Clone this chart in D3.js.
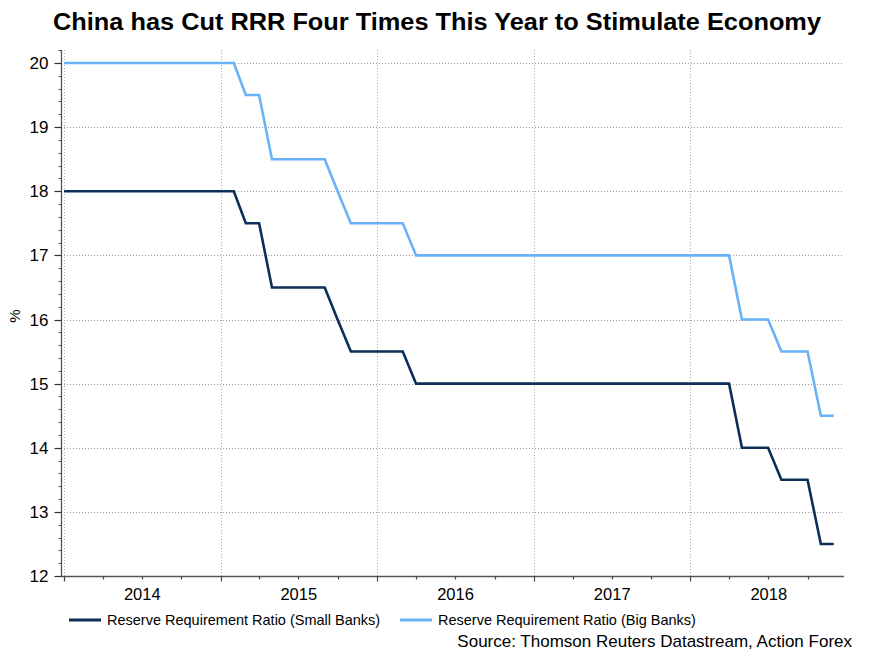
<!DOCTYPE html>
<html><head><meta charset="utf-8">
<script src="https://cdn.jsdelivr.net/npm/d3@7"></script>
<style>body{margin:0;background:#fff}svg{display:block;font-family:"Liberation Sans",Arial,sans-serif}</style>
</head><body><svg id="c" width="872" height="654"></svg>
<script>
const months = ["2013-12",
"2014-01","2014-02","2014-03","2014-04","2014-05","2014-06","2014-07","2014-08","2014-09","2014-10","2014-11","2014-12",
"2015-01","2015-02","2015-03","2015-04","2015-05","2015-06","2015-07","2015-08","2015-09","2015-10","2015-11","2015-12",
"2016-01","2016-02","2016-03","2016-04","2016-05","2016-06","2016-07","2016-08","2016-09","2016-10","2016-11","2016-12",
"2017-01","2017-02","2017-03","2017-04","2017-05","2017-06","2017-07","2017-08","2017-09","2017-10","2017-11","2017-12",
"2018-01","2018-02","2018-03","2018-04","2018-05","2018-06","2018-07","2018-08","2018-09","2018-10","2018-11"];
const smallBanks = [18,
18,18,18,18,18,18,18,18,18,18,18,18,
18,17.5,17.5,16.5,16.5,16.5,16.5,16.5,16,15.5,15.5,15.5,
15.5,15.5,15,15,15,15,15,15,15,15,15,15,
15,15,15,15,15,15,15,15,15,15,15,15,
15,15,15,14,14,14,13.5,13.5,13.5,12.5,12.5];
const bigBanks = [20,
20,20,20,20,20,20,20,20,20,20,20,20,
20,19.5,19.5,18.5,18.5,18.5,18.5,18.5,18,17.5,17.5,17.5,
17.5,17.5,17,17,17,17,17,17,17,17,17,17,
17,17,17,17,17,17,17,17,17,17,17,17,
17,17,17,16,16,16,15.5,15.5,15.5,14.5,14.5];
const yearLabels = ["2014","2015","2016","2017","2018"];
const yTicks = [12,13,14,15,16,17,18,19,20];
const seriesNames = ["Reserve Requirement Ratio (Small Banks)","Reserve Requirement Ratio (Big Banks)"];
const colors = ["#0b2f57","#6ab2f7"];

const svg = d3.select("#c");
const parseM = d3.timeParse("%Y-%m");
const dates = months.map(m => d3.timeMonth.offset(parseM(m), 1)); // month-end values
const L = 61, R = 844, T = 50, B = 576;
const x = d3.scaleTime().domain([new Date(2014,0,1), new Date(2019,0,1)]).range([64, 847]);
const y = d3.scaleLinear().domain([12, 20]).range([B, 63]);

// title
svg.append("text").attr("x", 437).attr("y", 30).attr("text-anchor","middle")
  .attr("font-size", 23).attr("font-weight","bold").attr("fill","#000")
  .attr("textLength", 768).attr("lengthAdjust","spacingAndGlyphs")
  .text("China has Cut RRR Four Times This Year to Stimulate Economy");

// grid
const g = svg.append("g");
g.selectAll(".hg").data(yTicks.filter(v=>v>12)).join("line")
  .attr("x1", L).attr("x2", R).attr("y1", d=>Math.round(y(d))+0.5).attr("y2", d=>Math.round(y(d))+0.5)
  .attr("stroke","#999").attr("stroke-width",1).attr("stroke-dasharray","1,2");
const yearDates = yearLabels.map(s => new Date(+s,0,1));
g.selectAll(".vg").data(yearDates).join("line")
  .attr("x1", d=>Math.round(x(d))+0.5).attr("x2", d=>Math.round(x(d))+0.5).attr("y1", T).attr("y2", B)
  .attr("stroke","#aaa").attr("stroke-width",1).attr("stroke-dasharray","1,2");

// lines
const series = [smallBanks, bigBanks];
const line = d3.line().x((d,i)=>x(dates[i])).y(d=>y(d));
series.forEach((s,k)=>{
  svg.append("path").datum(s).attr("d", line).attr("fill","none")
    .attr("stroke", colors[k]).attr("stroke-width", 2.6).attr("stroke-linejoin","miter");
});

// y axis
const ya = svg.append("g").attr("transform",`translate(${L+0.5},0)`);
ya.append("line").attr("y1", T).attr("y2", B+1).attr("stroke","#555").attr("stroke-width",1.3);
const minor = d3.range(120, 203, 2).map(v=>v/10);
ya.selectAll(".mt").data(minor).join("line")
  .attr("x1",-3).attr("x2",0).attr("y1",d=>Math.round(y(d))+0.5).attr("y2",d=>Math.round(y(d))+0.5)
  .attr("stroke","#555");
ya.selectAll(".Mt").data(yTicks).join("line")
  .attr("x1",-7).attr("x2",0).attr("y1",d=>Math.round(y(d))+0.5).attr("y2",d=>Math.round(y(d))+0.5)
  .attr("stroke","#333").attr("stroke-width",1.2);
ya.selectAll(".yl").data(yTicks).join("text")
  .attr("x",-13).attr("y",d=>y(d)+6).attr("text-anchor","end").attr("font-size",17).attr("fill","#000")
  .text(d=>d);
svg.append("text").attr("transform","translate(20,316) rotate(-90)").attr("text-anchor","middle")
  .attr("font-size",15).attr("fill","#000").text("%");

// x axis
const xa = svg.append("g").attr("transform",`translate(0,${B+0.5})`);
xa.append("line").attr("x1", L).attr("x2", R).attr("stroke","#555").attr("stroke-width",1.3);
const qTicks = d3.timeMonth.every(3).range(new Date(2014,0,1), new Date(2019,0,1));
xa.selectAll(".qt").data(qTicks).join("line")
  .attr("x1",d=>Math.round(x(d))+0.5).attr("x2",d=>Math.round(x(d))+0.5).attr("y1",0)
  .attr("y2",d=>d.getMonth()===0?5:3).attr("stroke","#444").attr("stroke-width",1.2);
xa.selectAll(".xl").data(yearLabels).join("text")
  .attr("x",d=>(x(new Date(+d,0,1))+x(new Date(+d+1,0,1)))/2).attr("y",23)
  .attr("text-anchor","middle").attr("font-size",16.5).attr("fill","#000").text(d=>d);

// legend
const lg = [[69,107],[400,438]];
seriesNames.forEach((n,k)=>{
  svg.append("line").attr("x1",lg[k][0]).attr("x2",lg[k][0]+32).attr("y1",620).attr("y2",620)
    .attr("stroke",colors[k]).attr("stroke-width",3);
  svg.append("text").attr("x",lg[k][1]).attr("y",625).attr("font-size",14.5).attr("fill","#000").text(n);
});
svg.append("text").attr("x",852).attr("y",647).attr("text-anchor","end").attr("font-size",17)
  .attr("fill","#000").text("Source: Thomson Reuters Datastream, Action Forex");
</script></body></html>
